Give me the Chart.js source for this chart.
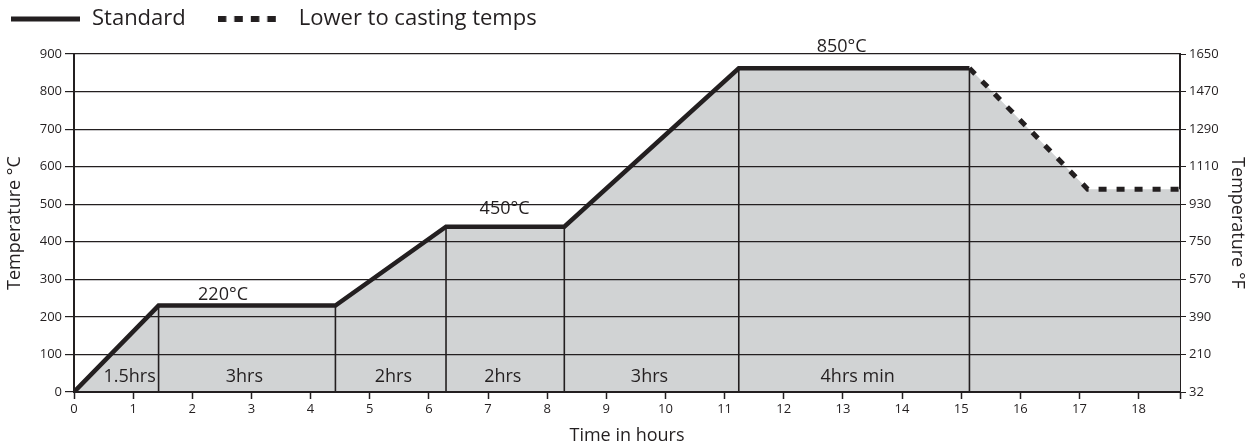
<!DOCTYPE html>
<html>
<head>
<meta charset="utf-8">
<script src="https://cdn.jsdelivr.net/npm/chart.js@4.4.1/dist/chart.umd.min.js"></script>
<style>
  html, body { margin: 0; padding: 0; background: #fff; }
  #wrap { width: 1248px; height: 445px; }
</style>
</head>
<body>
<div id="wrap"><canvas id="chart"></canvas></div>
<script>
// Firing schedule (standard) and the optional cool-down to casting temps
const hours = [0, 1.43, 4.42, 6.29, 8.29, 11.24, 15.14];
const tempsC = [0, 230, 230, 440, 440, 862, 862];
const castHours = [15.14, 17.14, 18.7];
const castTemps = [862, 540, 540];

// Axis ticks
const hourTicks = [0, 1, 2, 3, 4, 5, 6, 7, 8, 9, 10, 11, 12, 13, 14, 15, 16, 17, 18];
const celsiusTicks = [0, 100, 200, 300, 400, 500, 600, 700, 800, 900];
const fahrenheitTicks = ['32', '210', '390', '570', '750', '930', '1110', '1290', '1470', '1650'];

// Annotations
const stageLabels = ['1.5hrs', '3hrs', '2hrs', '2hrs', '3hrs', '4hrs min'];
const stageLabelHours = [0.94, 2.88, 5.4, 7.25, 9.73, 13.25];
const holdLabels = ['220°C', '450°C', '850°C'];
const holdLabelHours = [2.52, 7.28, 12.98];
const holdLabelTemps = [258, 487, 918];

const INK = '#231f20';
const FILL = '#d1d3d4';

Chart.defaults.font.family = "'Open Sans', sans-serif";
Chart.defaults.color = INK;

// legend samples: a solid bar and a row of square dashes
function legendSample(dashed) {
  const c = document.createElement('canvas');
  c.width = 70;
  c.height = 6;
  const g = c.getContext('2d');
  g.fillStyle = INK;
  if (dashed) {
    for (let i = 0; i < 4; i++) g.fillRect(i * 16.5, 0, 8.5, 6);
  } else {
    g.fillRect(0, 0.5, 69, 5);
  }
  return c;
}

const annotations = {
  id: 'annotations',
  afterLayout(chart) {
    // pull the legend up into the top-left corner
    chart.legend.top -= 14;
    chart.legend.bottom -= 14;
    chart.legend.left -= 21;
    chart.legend.right -= 21;
  },
  afterDatasetsDraw(chart) {
    const { ctx, scales: { x, y } } = chart;
    ctx.save();
    ctx.strokeStyle = INK;
    ctx.lineWidth = 1.6;
    hours.slice(1).forEach((h, i) => {
      const px = x.getPixelForValue(h);
      ctx.beginPath();
      ctx.moveTo(px, y.getPixelForValue(0));
      ctx.lineTo(px, y.getPixelForValue(tempsC[i + 1]));
      ctx.stroke();
    });
    ctx.restore();
  },
  afterDraw(chart) {
    const { ctx, chartArea, scales: { x, y } } = chart;
    ctx.save();
    ctx.fillStyle = INK;
    ctx.textAlign = 'center';
    ctx.textBaseline = 'middle';
    ctx.font = "18px 'Open Sans', sans-serif";
    stageLabels.forEach((t, i) => {
      ctx.fillText(t, x.getPixelForValue(stageLabelHours[i]), chartArea.bottom - 15);
    });
    holdLabels.forEach((t, i) => {
      ctx.fillText(t, x.getPixelForValue(holdLabelHours[i]), y.getPixelForValue(holdLabelTemps[i]));
    });
    ctx.restore();
  }
};

new Chart(document.getElementById('chart'), {
  type: 'line',
  data: {
    datasets: [
      {
        label: 'Standard',
        data: hours.map((h, i) => ({ x: h, y: tempsC[i] })),
        borderColor: INK,
        backgroundColor: FILL,
        borderWidth: 4.5,
        borderJoinStyle: 'miter',
        fill: 'origin',
        pointRadius: 0,
        pointStyle: legendSample(false),
        tension: 0
      },
      {
        label: 'Lower to casting temps',
        data: castHours.map((h, i) => ({ x: h, y: castTemps[i] })),
        borderColor: INK,
        backgroundColor: FILL,
        borderWidth: 5,
        borderDash: [8, 10],
        borderJoinStyle: 'miter',
        fill: 'origin',
        pointRadius: 0,
        pointStyle: legendSample(true),
        tension: 0
      }
    ]
  },
  options: {
    responsive: true,
    maintainAspectRatio: false,
    animation: false,
    layout: { padding: { top: -10, left: 0, right: 0, bottom: 0 } },
    plugins: {
      tooltip: { enabled: false },
      legend: {
        align: 'start',
        labels: {
          usePointStyle: true,
          pointStyleWidth: 70,
          padding: 32,
          color: INK,
          font: { size: 22 }
        }
      }
    },
    scales: {
      x: {
        type: 'linear',
        min: 0,
        max: 18.7,
        afterBuildTicks: s => { s.ticks = hourTicks.concat(s.max).map(v => ({ value: v })); },
        ticks: {
          font: { size: 13 },
          padding: 2,
          maxRotation: 0,
          autoSkip: false,
          callback: v => hourTicks.includes(v) ? v : ''
        },
        grid: { drawOnChartArea: false, color: INK, tickLength: 7, tickWidth: 1.5 },
        border: { color: INK, width: 2 },
        title: { display: true, text: 'Time in hours', font: { size: 18, lineHeight: 1 }, padding: 0 },
        afterFit: s => { s.height = 53; }
      },
      y: {
        min: 0,
        max: 900,
        afterBuildTicks: s => { s.ticks = celsiusTicks.map(v => ({ value: v })); },
        ticks: { font: { size: 13 }, padding: 3 },
        // grid on top of the grey fill, border drawn after the grid
        grid: { color: INK, lineWidth: 1.2, tickLength: 9, z: 1 },
        border: { color: INK, width: 2, z: 2 },
        title: { display: true, text: 'Temperature °C', font: { size: 18 }, padding: 4 },
        afterFit: s => { s.width = 74; }
      },
      y2: {
        position: 'right',
        min: 0,
        max: 900,
        afterBuildTicks: s => { s.ticks = celsiusTicks.map(v => ({ value: v })); },
        ticks: {
          font: { size: 13 },
          padding: 3,
          callback: v => fahrenheitTicks[celsiusTicks.indexOf(v)]
        },
        grid: { drawOnChartArea: false, color: INK, tickLength: 6 },
        border: { color: INK, width: 2 },
        title: { display: true, text: 'Temperature °F', font: { size: 18 }, padding: 0 },
        afterFit: s => { s.width = 68; }
      }
    }
  },
  plugins: [annotations]
});
</script>
</body>
</html>
